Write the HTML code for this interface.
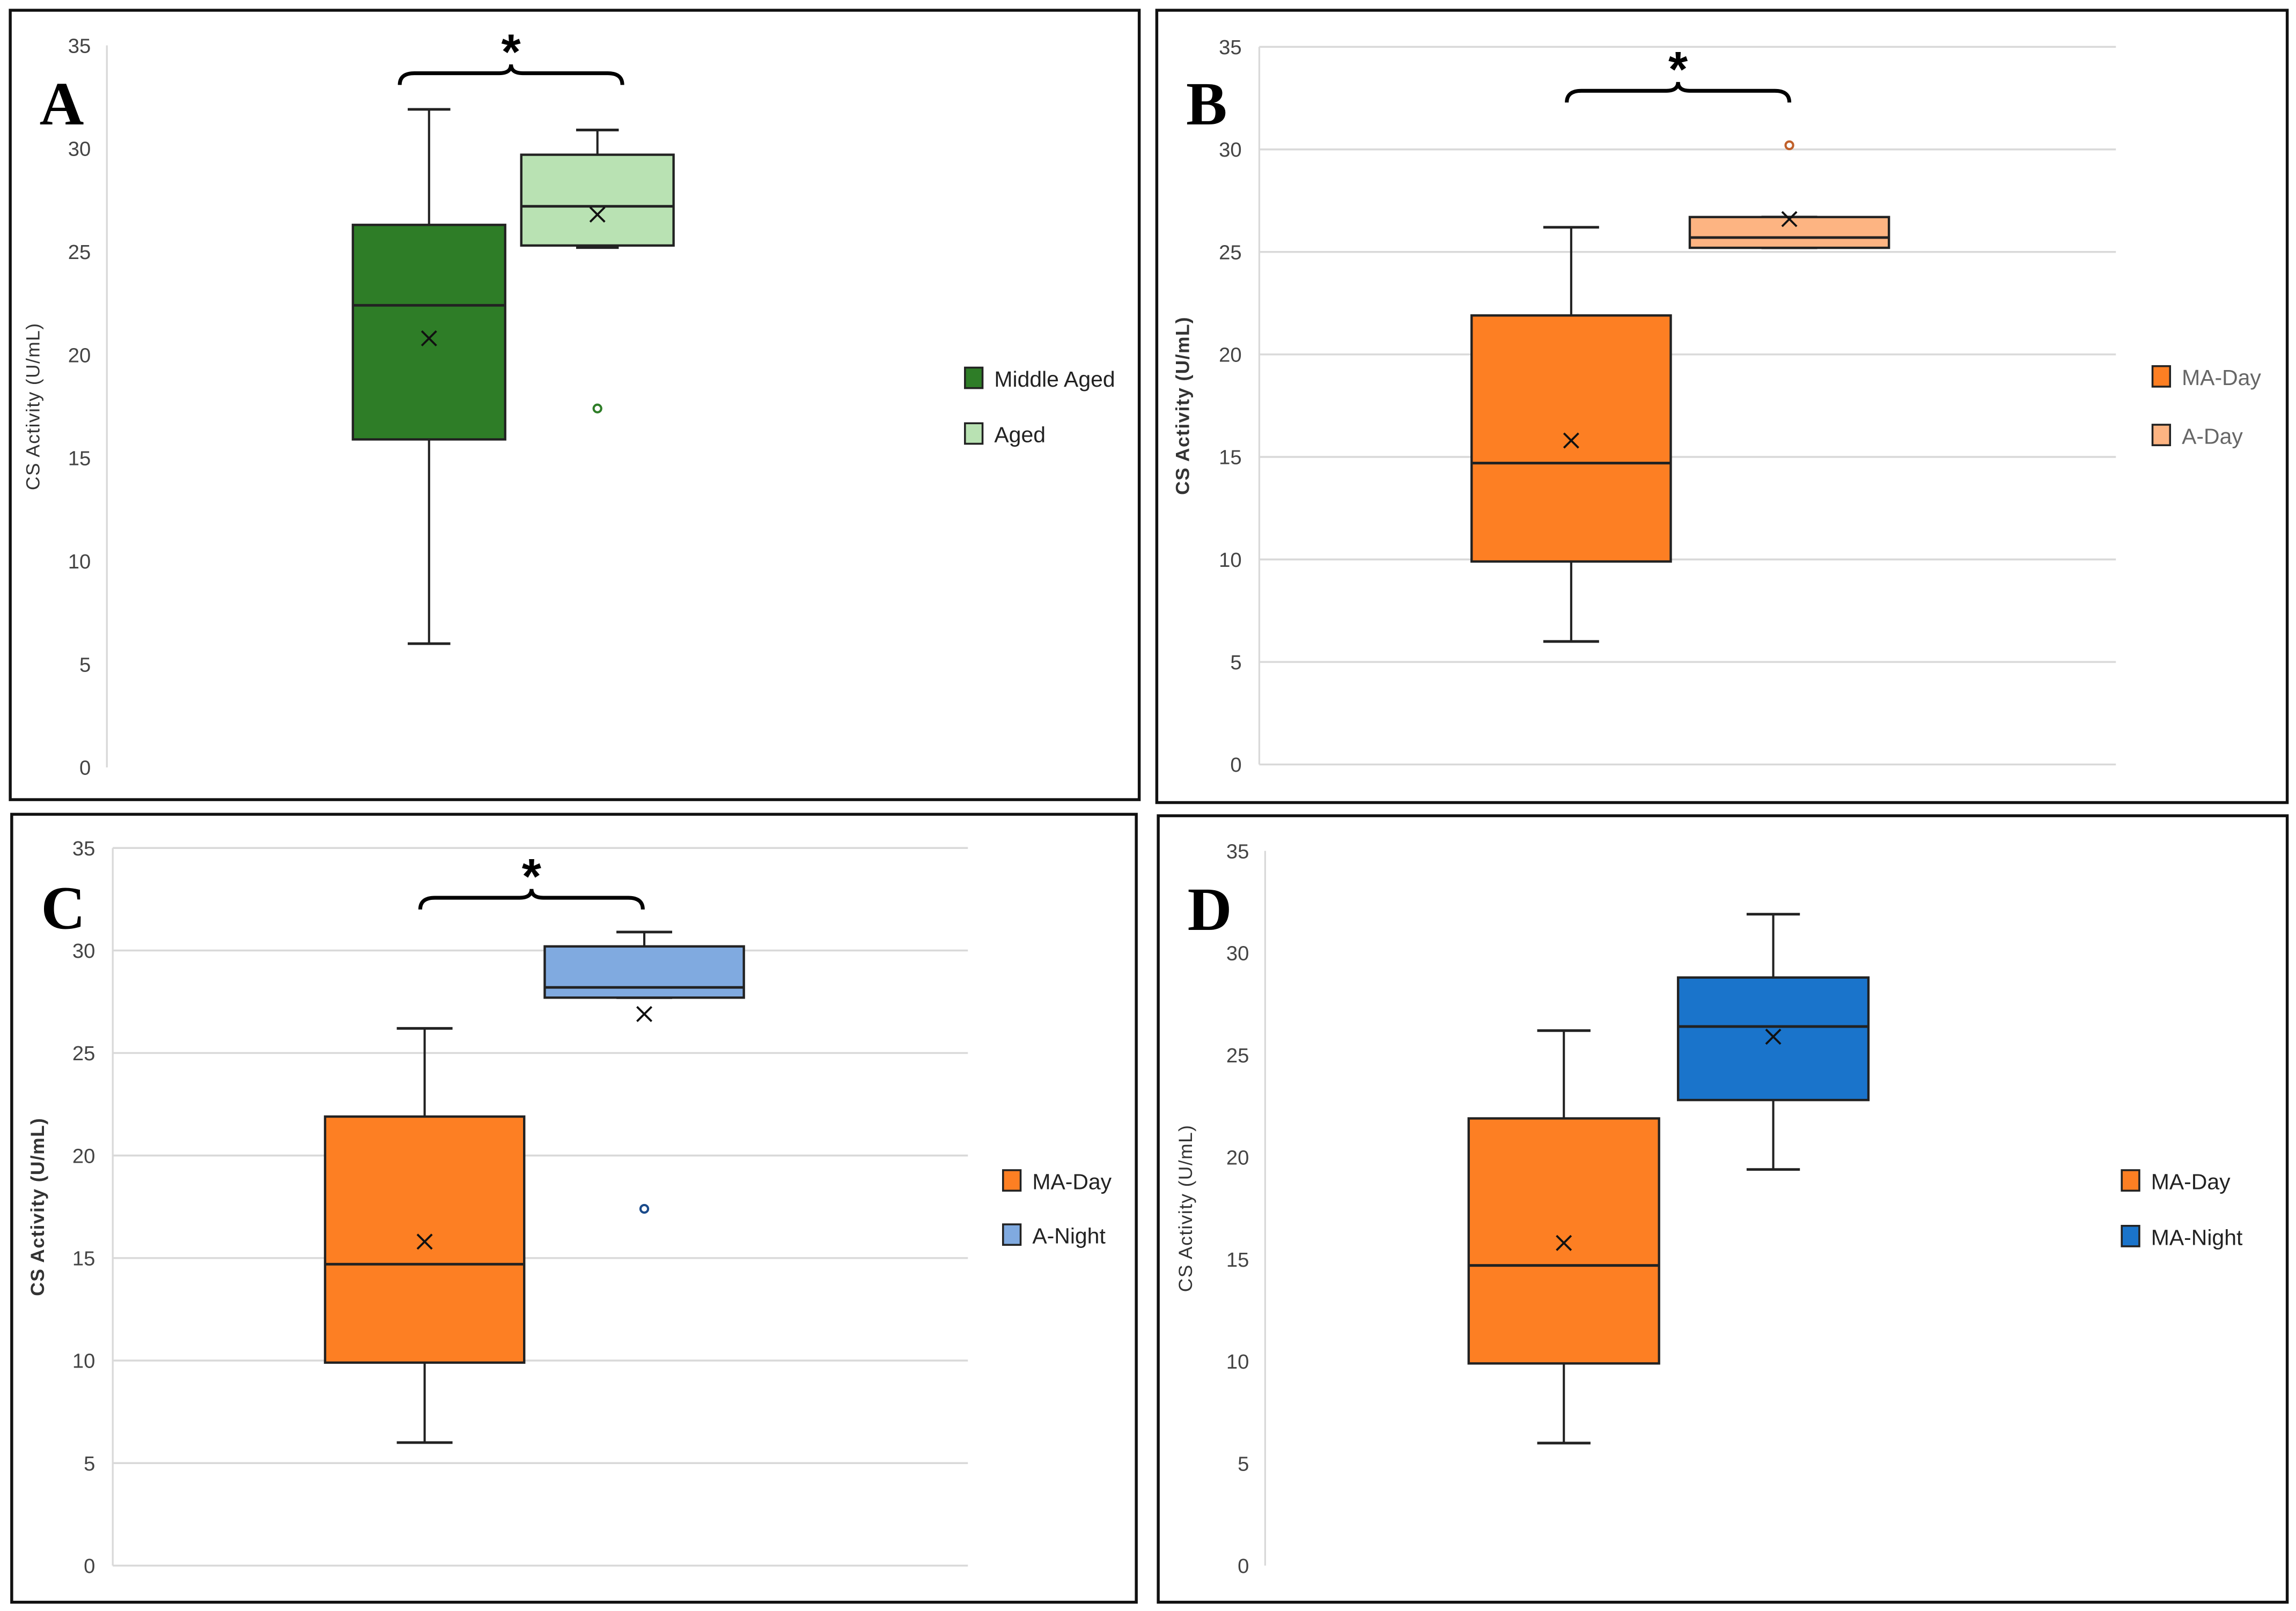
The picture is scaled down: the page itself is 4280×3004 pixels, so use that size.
<!DOCTYPE html>
<html><head><meta charset="utf-8"><style>
html,body{margin:0;padding:0;background:#fff}
svg{display:block}
text{font-family:"Liberation Sans",sans-serif}
</style></head><body>
<svg id="fig" xmlns="http://www.w3.org/2000/svg" width="4280" height="3004" viewBox="0 0 1568 1100" preserveAspectRatio="none"></svg>
<script>
// ---- data ----
const yTicks = [0, 5, 10, 15, 20, 25, 30, 35];
const tickLabels = ["0", "5", "10", "15", "20", "25", "30", "35"];
const panelLetters = ["A", "B", "C", "D"];
const seriesNamesA = ["Middle Aged", "Aged"];
const seriesNamesB = ["MA-Day", "A-Day"];
const seriesNamesC = ["MA-Day", "A-Night"];
const seriesNamesD = ["MA-Day", "MA-Night"];
// [min, q1, median, q3, max, mean]
const statsA = [[6.0, 15.9, 22.4, 26.3, 31.9, 20.8], [25.2, 25.3, 27.2, 29.7, 30.9, 26.8]];
const statsB = [[6.0, 9.9, 14.7, 21.9, 26.2, 15.8], [25.2, 25.2, 25.7, 26.7, 26.7, 26.6]];
const statsC = [[6.0, 9.9, 14.7, 21.9, 26.2, 15.8], [27.7, 27.7, 28.2, 30.2, 30.9, 26.9]];
const statsD = [[6.0, 9.9, 14.7, 21.9, 26.2, 15.8], [19.4, 22.8, 26.4, 28.8, 31.9, 25.9]];
const outliersA = [[], [17.4]];
const outliersB = [[], [30.2]];
const outliersC = [[], [17.4]];
const outliersD = [[], []];
const significant = [true, true, true, false];

// ---- layout ----
const panels = [
 {name:"panel-a", L:panelLetters[0], bx:7,by:7,bw:771,bh:539, y0:524,y35:31, ax:73, gr:null, lx:62, cx:[293,408], hw:52, colors:["#2e7d27","#b9e2b3"], names:seriesNamesA, stats:statsA, out:outliersA, leg:[659,258,296], legCol:"#222", titleX:27, brace:[273,425,50], star:true},
 {name:"panel-b", L:panelLetters[1], bx:790,by:7,bw:772,bh:541, y0:522,y35:32, ax:860, gr:1445, lx:848, cx:[1073,1222], hw:68, colors:["#fd7f23","#fdb482"], names:seriesNamesB, stats:statsB, out:outliersB, leg:[1470,257,297], legCol:"#666", titleX:812, brace:[1070,1222,62], star:true},
 {name:"panel-c", L:panelLetters[2], bx:8,by:556,bw:768,bh:538, y0:1069,y35:579, ax:77, gr:661, lx:65, cx:[290,440], hw:68, colors:["#fd7f23","#80aae0"], names:seriesNamesC, stats:statsC, out:outliersC, leg:[685,806,843], legCol:"#222", titleX:30, brace:[287,439,613], star:true},
 {name:"panel-d", L:panelLetters[3], bx:791,by:557,bw:771,bh:537, y0:1069,y35:581, ax:864, gr:null, lx:853, cx:[1068,1211], hw:65, colors:["#fd7f23","#1a74cb"], names:seriesNamesD, stats:statsD, out:outliersD, leg:[1449,806,844], legCol:"#222", titleX:814, brace:null, star:false}
];
const NS="http://www.w3.org/2000/svg";
const svg=document.getElementById("fig");
function mk(tag,attrs,parent){const e=document.createElementNS(NS,tag);for(const k in attrs)e.setAttribute(k,attrs[k]);(parent||svg).appendChild(e);return e;}

panels.forEach((p,pi)=>{
  const g=mk("g",{});
  
  
  const yS=v=>p.y0+(p.y35-p.y0)*v/35;
  const border=mk("rect",{x:p.bx,y:p.by,width:p.bw,height:p.bh,fill:"#fff",stroke:"#111","stroke-width":2},g);
  
  
  // gridlines / ticks
  yTicks.forEach((t,i)=>{
    if(p.gr){
      const gl=mk("line",{x1:p.ax,x2:p.gr,y1:yS(t),y2:yS(t),stroke:"#d9d9d9","stroke-width":1.3},g);
      
      
    }
    const tl=mk("text",{x:p.lx,y:yS(t)+5,"text-anchor":"end","font-size":14,fill:"#444"},g);
    tl.textContent=tickLabels[i];
    
    
  });
  const axl=mk("line",{x1:p.ax,x2:p.ax,y1:yS(0),y2:yS(35),stroke:"#d9d9d9","stroke-width":1.2},g);
  
  
  // y title
  const ym=(p.y0+p.y35)/2;
  const yt=mk("text",{x:p.titleX,y:ym,transform:`rotate(-90 ${p.titleX} ${ym})`,"text-anchor":"middle","font-size":13,"font-weight":(pi==1||pi==2)?"bold":"normal",fill:"#333","letter-spacing":"0.5"},g);
  yt.textContent="CS Activity (U/mL)";
  
  
  // panel letter
  const pl=mk("text",{x:p.bx+20,y:p.by+78,"font-size":42,"font-weight":"bold",fill:"#000","font-family":"Liberation Serif, serif"},g);
  pl.setAttribute("style","font-family:'Liberation Serif',serif");
  pl.textContent=p.L;
  
  
  // boxes
  p.stats.forEach((s,si)=>{
    const cx=p.cx[si],hw=p.hw;
    const bg=mk("g",{},g);
    
    
    const cw=hw*0.28;
    mk("line",{x1:cx,x2:cx,y1:yS(s[4]),y2:yS(s[3]),stroke:"#222","stroke-width":1.5},bg);
    mk("line",{x1:cx,x2:cx,y1:yS(s[1]),y2:yS(s[0]),stroke:"#222","stroke-width":1.5},bg);
    mk("line",{x1:cx-cw,x2:cx+cw,y1:yS(s[4]),y2:yS(s[4]),stroke:"#222","stroke-width":1.8},bg);
    mk("line",{x1:cx-cw,x2:cx+cw,y1:yS(s[0]),y2:yS(s[0]),stroke:"#222","stroke-width":1.8},bg);
    mk("rect",{x:cx-hw,y:yS(s[3]),width:2*hw,height:Math.max(1,yS(s[1])-yS(s[3])),fill:p.colors[si],stroke:"#222","stroke-width":1.6},bg);
    mk("line",{x1:cx-hw,x2:cx+hw,y1:yS(s[2]),y2:yS(s[2]),stroke:"#222","stroke-width":1.8},bg);
    const my=yS(s[5]),d=5;
    const mean=mk("path",{d:`M${cx-d} ${my-d}L${cx+d} ${my+d}M${cx+d} ${my-d}L${cx-d} ${my+d}`,stroke:"#111","stroke-width":1.4,fill:"none"},bg);
    
    
    p.out[si].forEach(o=>{
      const oc=mk("circle",{cx:cx,cy:yS(o),r:2.6,fill:"#fff",stroke:p.colors[si]==="#b9e2b3"?"#2e7d27":(p.colors[si]==="#80aae0"?"#1a4a8a":"#c0602a"),"stroke-width":1.5},bg);
      
      
    });
  });
  // legend
  p.names.forEach((n,ni)=>{
    const lg=mk("g",{},g);
    
    
    const ly=p.leg[1+ni];
    mk("rect",{x:p.leg[0],y:ly-7,width:12,height:14,fill:p.colors[ni],stroke:"#222","stroke-width":1.3},lg);
    const lt=mk("text",{x:p.leg[0]+20,y:ly+6,"font-size":15,fill:p.legCol},lg);
    lt.textContent=n;
  });
  // significance brace
  if(p.brace && significant[pi]){
    const [x1,x2,yb]=p.brace, m=(x1+x2)/2;
    const br=mk("path",{d:`M${x1} ${yb+8}Q${x1} ${yb} ${x1+10} ${yb}L${m-8} ${yb}Q${m} ${yb} ${m} ${yb-6}Q${m} ${yb} ${m+8} ${yb}L${x2-10} ${yb}Q${x2} ${yb} ${x2} ${yb+8}`,fill:"none",stroke:"#000","stroke-width":2.6},g);
    
    
    const st=mk("text",{x:m,y:yb-3,"text-anchor":"middle","font-size":34,"font-weight":"bold",fill:"#000"},g);
    st.textContent="*";
    
    
  }
});
</script>
</body></html>
